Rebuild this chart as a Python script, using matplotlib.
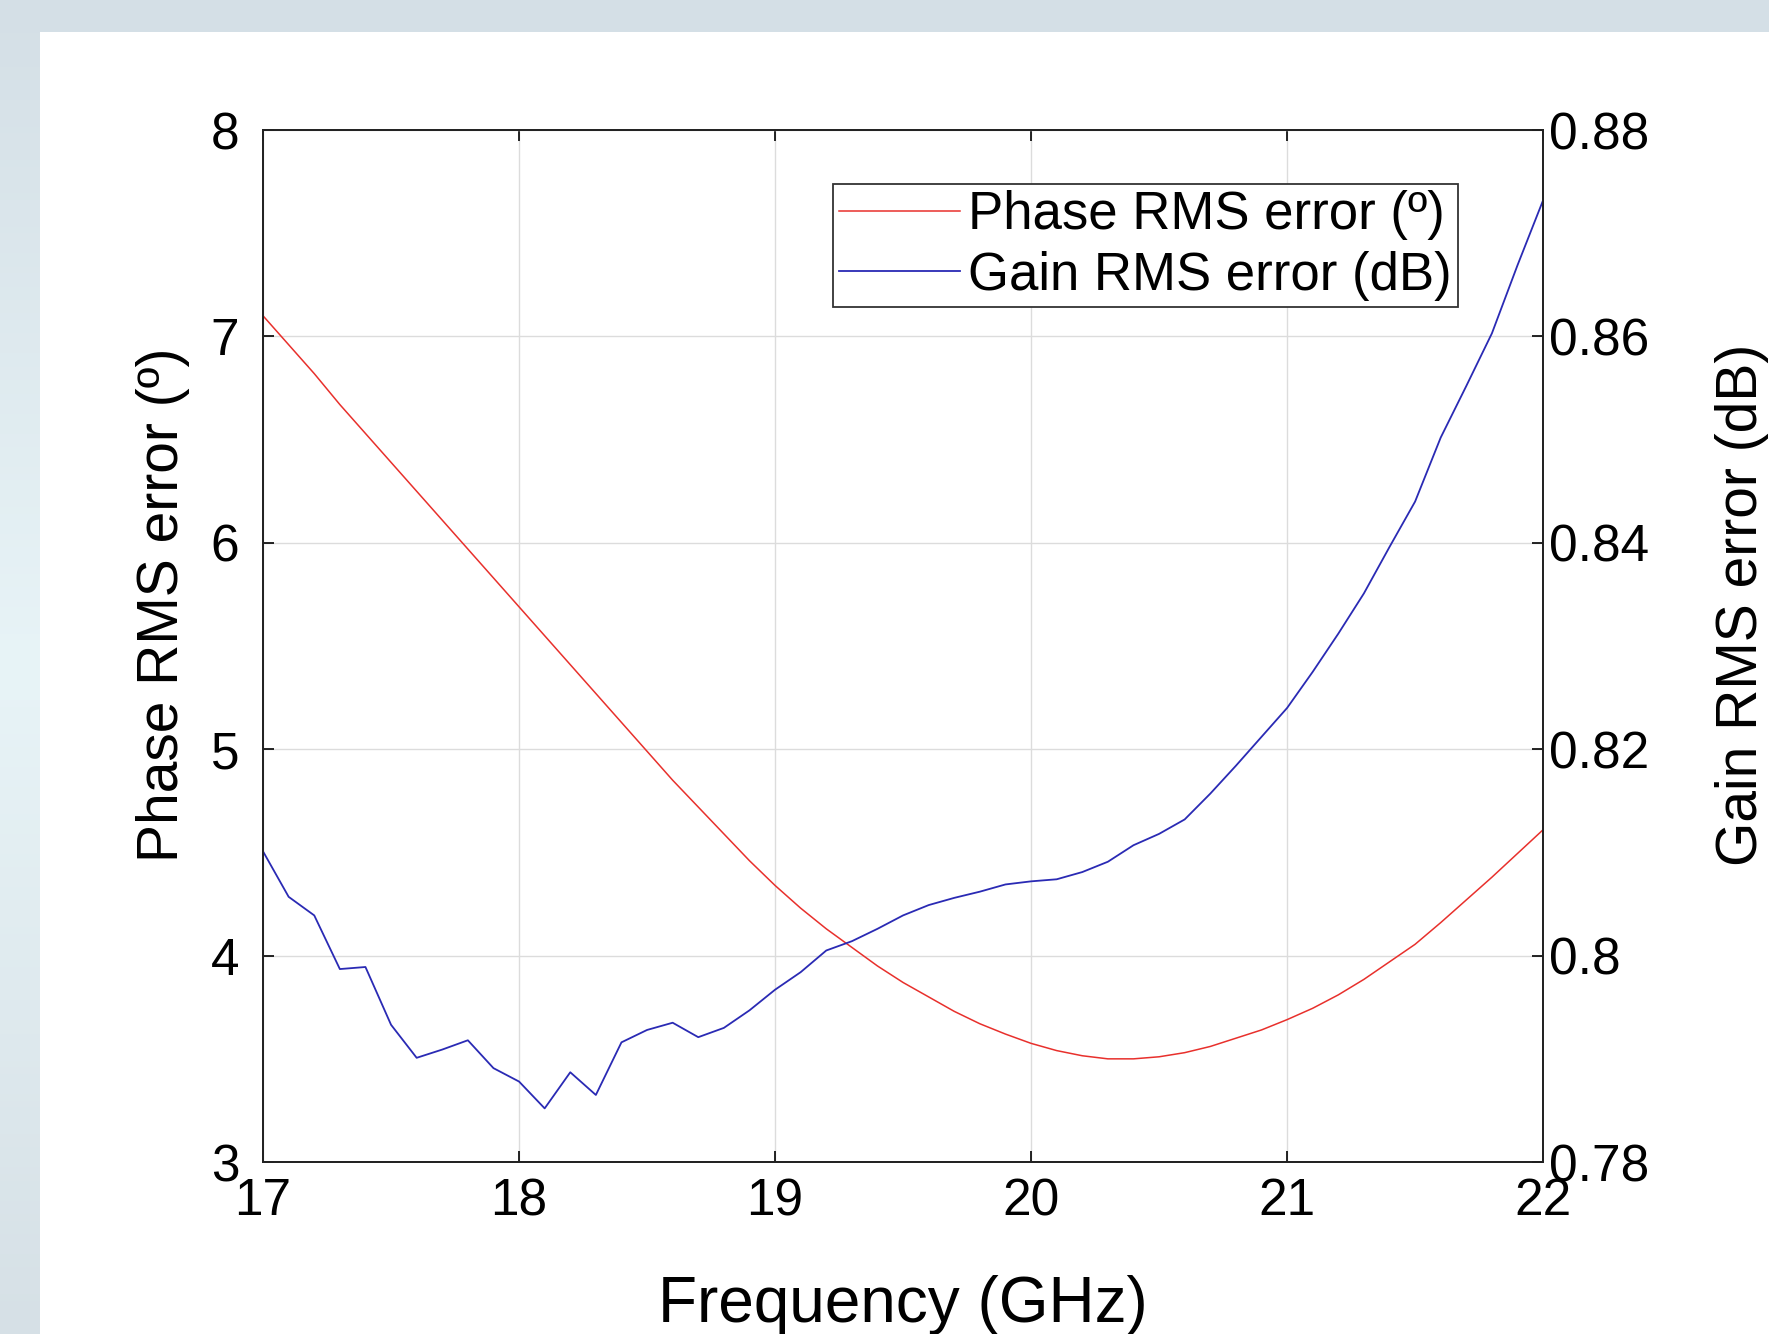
import numpy as np
import matplotlib
matplotlib.use("Agg")
import matplotlib.pyplot as plt
from matplotlib.patches import Rectangle

plt.rcParams['font.family'] = ['Liberation Sans', 'DejaVu Sans']

# frequency sweep (GHz), 0.1 GHz steps
freq = [17.0, 17.1, 17.2, 17.3, 17.4, 17.5, 17.6, 17.7, 17.8, 17.9,
        18.0, 18.1, 18.2, 18.3, 18.4, 18.5, 18.6, 18.7, 18.8, 18.9,
        19.0, 19.1, 19.2, 19.3, 19.4, 19.5, 19.6, 19.7, 19.8, 19.9,
        20.0, 20.1, 20.2, 20.3, 20.4, 20.5, 20.6, 20.7, 20.8, 20.9,
        21.0, 21.1, 21.2, 21.3, 21.4, 21.5, 21.6, 21.7, 21.8, 21.9,
        22.0]

# phase RMS error (deg), left axis
phase_rms = [7.10, 6.96, 6.82, 6.67, 6.53, 6.39, 6.25, 6.11, 5.97, 5.83,
             5.69, 5.55, 5.41, 5.27, 5.13, 4.99, 4.85, 4.72, 4.59, 4.46,
             4.34, 4.23, 4.13, 4.04, 3.95, 3.87, 3.80, 3.73, 3.67, 3.62,
             3.575, 3.54, 3.515, 3.50, 3.50, 3.51, 3.53, 3.56, 3.60, 3.64,
             3.69, 3.745, 3.81, 3.885, 3.97, 4.055, 4.16, 4.27, 4.38, 4.495,
             4.61]

# gain RMS error (dB), right axis
gain_rms = [0.8101, 0.8057, 0.8039, 0.7987, 0.7989, 0.7933, 0.7901, 0.7909, 0.7918, 0.7891,
            0.7878, 0.7852, 0.7887, 0.7865, 0.7916, 0.7928, 0.7935, 0.7921, 0.7930, 0.7947,
            0.7967, 0.7984, 0.8005, 0.8014, 0.8026, 0.8039, 0.8049, 0.8056, 0.8062, 0.8069,
            0.8072, 0.8074, 0.8081, 0.8091, 0.8107, 0.8118, 0.8132, 0.8157, 0.8184, 0.8212,
            0.8240, 0.8275, 0.8312, 0.8351, 0.8396, 0.8440, 0.8502, 0.8552, 0.8603, 0.8669,
            0.8732]

x_ticks = [17, 18, 19, 20, 21, 22]
phase_ticks = [3, 4, 5, 6, 7, 8]
gain_ticks = [0.78, 0.80, 0.82, 0.84, 0.86, 0.88]
gain_ticklabels = ["0.78", "0.8", "0.82", "0.84", "0.86", "0.88"]

fig = plt.figure(figsize=(17.69, 13.34), dpi=100)

# bluish slide background with a white panel on top
bg = fig.add_axes([0, 0, 1, 1], zorder=-10)
top_c = np.array([212, 223, 230]) / 255
mid_c = np.array([232, 244, 247]) / 255
bot_c = np.array([214, 224, 230]) / 255
t = np.linspace(0, 1, 200)[:, None]
col = np.where(t < 0.5, top_c + (mid_c - top_c) * (t / 0.5), mid_c + (bot_c - mid_c) * ((t - 0.5) / 0.5))
grad = np.repeat(col[:, None, :], 50, axis=1)
bg.imshow(grad, aspect='auto', extent=[0, 1, 0, 1])
bg.add_patch(Rectangle((0.0226, 0), 0.98, 0.976, facecolor='white', edgecolor='none'))
bg.set_xlim(0, 1)
bg.set_ylim(0, 1)
bg.axis('off')

ax1 = fig.add_axes([0.1487, 0.1289, 0.7236, 0.7736])
ax2 = ax1.twinx()

l1, = ax1.plot(freq, phase_rms, color='#e8302c', lw=1.1, label='Phase RMS error (º)')
l2, = ax2.plot(freq, gain_rms, color='#2a2ab4', lw=1.3, label='Gain RMS error (dB)')

ax1.set_xlim(17, 22)
ax1.set_ylim(3, 8)
ax2.set_ylim(0.78, 0.88)
ax1.set_xticks(x_ticks)
ax1.set_yticks(phase_ticks)
ax2.set_yticks(gain_ticks)
ax2.set_yticklabels(gain_ticklabels)

ax1.grid(True, color='#dcdcdc', lw=1.0)
ax1.set_axisbelow(True)

ax1.tick_params(axis='both', direction='in', length=8, width=1.2, labelsize=37, colors='black')
ax1.tick_params(axis='x', top=True, pad=11)
ax1.tick_params(axis='y', pad=17)
ax2.tick_params(axis='y', direction='in', length=8, width=1.2, labelsize=37, pad=4)

for ax in (ax1, ax2):
    for s in ax.spines.values():
        s.set_linewidth(1.3)
        s.set_color('#222222')

ax1.set_xlabel('Frequency (GHz)', fontsize=46)
ax1.set_ylabel('Phase RMS error (º)', fontsize=41)
ax2.set_ylabel('Gain RMS error (dB)', fontsize=41)
ax1.xaxis.set_label_coords(0.5, -0.155)
ax1.xaxis.label.set_va('baseline')
ax1.yaxis.set_label_coords(-0.078, 0.54)
ax1.yaxis.label.set_va('center')
ax2.yaxis.set_label_coords(1.155, 0.54)
ax2.yaxis.label.set_va('center')

leg = ax2.legend([l1, l2], [l1.get_label(), l2.get_label()], loc='upper right',
                 bbox_to_anchor=(0.9336, 0.9477), fontsize=38, frameon=True,
                 fancybox=False, edgecolor='#333333', framealpha=1,
                 handlelength=2.3, handletextpad=0.15, labelspacing=0.2,
                 borderpad=0.12, borderaxespad=0)
leg.get_frame().set_linewidth(1.3)

fig.savefig('out.png', dpi=100)
